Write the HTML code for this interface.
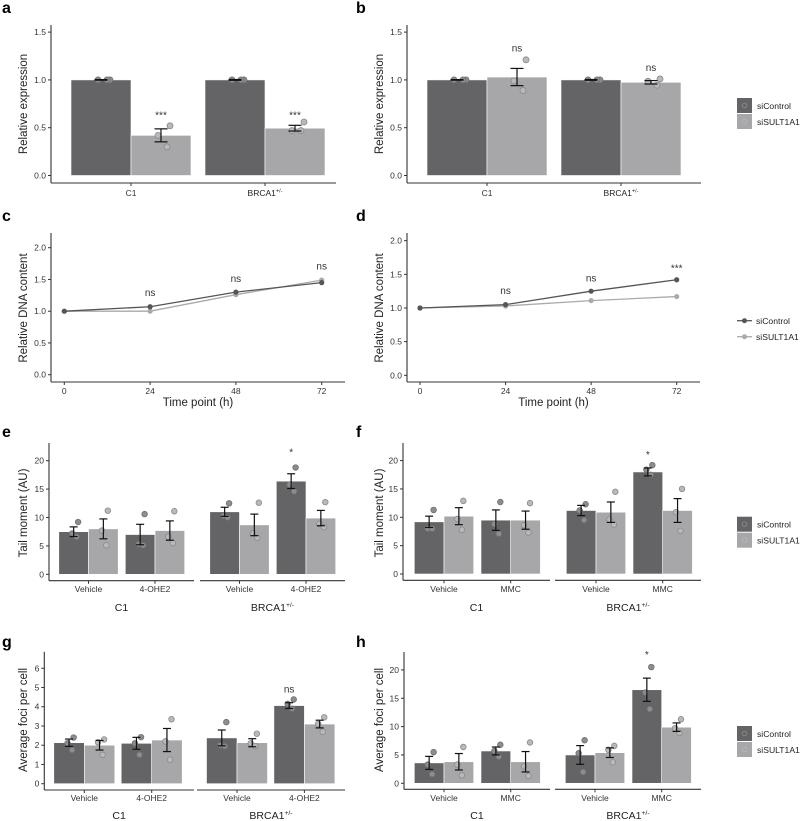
<!DOCTYPE html>
<html><head><meta charset="utf-8">
<style>
html,body{margin:0;padding:0;background:#fff;}
svg{display:block;font-family:"Liberation Sans",Arial,sans-serif;}
</style></head>
<body>
<svg id="fig" width="800" height="821" viewBox="0 0 800 821" xmlns="http://www.w3.org/2000/svg"></svg>
<script>
// ---------- DATA ----------
// Panel a
const aCats = ['C1','BRCA1'];
const aCtrl = [1.0, 1.0];
const aCtrlSe = [0.003, 0.004];
const aSi = [0.42, 0.495];
const aSiSe = [0.068, 0.03];
const aCtrlPts = [[1.0,1.0,1.0],[1.0,1.0,1.0]];
const aSiPts = [[0.52,0.42,0.30],[0.56,0.47,0.47]];
const aAnnot = ['***','***'];
const aAnnotY = [0.64, 0.64];
const aTicks = [0,0.5,1.0,1.5];
// Panel b
const bCtrl = [1.0, 1.0];
const bCtrlSe = [0.003, 0.004];
const bSi = [1.03, 0.975];
const bSiSe = [0.09, 0.018];
const bCtrlPts = [[1.0,1.0,1.0],[1.0,1.0,1.0]];
const bSiPts = [[1.21,0.99,0.89],[1.01,0.985,0.945]];
const bAnnot = ['ns','ns'];
const bAnnotY = [1.34, 1.135];
// Panel c
const timePoints = [0,24,48,72];
const cCtrl = [1.0,1.07,1.30,1.45];
const cSi = [1.0,1.0,1.26,1.49];
const cAnnot = ['','ns','ns','ns'];
const cAnnotY = [0,1.3,1.52,1.72];
const lineTicks = [0,0.5,1.0,1.5,2.0];
// Panel d
const dCtrl = [1.0,1.05,1.25,1.42];
const dSi = [1.0,1.03,1.11,1.17];
const dAnnot = ['','ns','ns','***'];
const dAnnotY = [0,1.27,1.45,1.6];
// Panel e
const eCats = ['Vehicle','4-OHE2','Vehicle','4-OHE2'];
const eCtrl = [7.5,7.0,11.0,16.4];
const eCtrlSe = [0.85,1.8,0.8,1.3];
const eSi = [8.0,7.7,8.7,9.9];
const eSiSe = [1.75,1.7,1.9,1.35];
const eCtrlPts = [[9.2,7.2,6.6],[10.6,5.3,5.1],[12.5,10.3,10.0],[18.8,15.8,14.6]];
const eSiPts = [[11.2,7.7,5.1],[11.1,6.6,5.5],[12.6,7.2,6.4],[12.7,8.9,8.3]];
const eAnnot = ['','','','*'];
const eAnnotY = [0,0,0,21.6];
const eTicks = [0,5,10,15,20];
// Panel f
const fCats = ['Vehicle','MMC','Vehicle','MMC'];
const fCtrl = [9.2,9.5,11.2,18.0];
const fCtrlSe = [1.0,1.8,0.9,0.7];
const fSi = [10.2,9.5,10.9,11.2];
const fSiSe = [1.5,1.6,1.8,2.1];
const fCtrlPts = [[11.3,8.0,8.0],[12.7,8.8,7.1],[12.3,11.2,9.5],[19.2,18.4,17.5]];
const fSiPts = [[12.9,9.7,7.8],[12.5,8.6,7.3],[14.5,9.6,8.7],[15.0,10.9,7.6]];
const fAnnot = ['','','','*'];
const fAnnotY = [0,0,0,21.2];
// Panel g
const gCtrl = [2.13,2.1,2.38,4.06];
const gCtrlSe = [0.19,0.31,0.41,0.15];
const gSi = [2.0,2.27,2.13,3.1];
const gSiSe = [0.25,0.6,0.21,0.2];
const gCtrlPts = [[2.4,2.1,1.75],[2.42,2.1,1.5],[3.2,2.0,1.95],[4.38,4.15,3.9]];
const gSiPts = [[2.3,2.15,1.5],[3.35,2.2,1.25],[2.6,2.1,1.95],[3.45,3.1,2.7]];
const gAnnot = ['','','','ns'];
const gAnnotY = [0,0,0,4.95];
const gTicks = [0,1,2,3,4,5,6];
// Panel h
const hCtrl = [3.6,5.7,5.0,16.5];
const hCtrlSe = [1.15,0.7,1.65,2.05];
const hSi = [3.8,3.8,5.4,9.9];
const hSiSe = [1.45,1.8,0.85,0.75];
const hCtrlPts = [[5.5,3.3,1.6],[6.8,5.7,4.7],[7.6,5.3,2.0],[20.5,16.0,13.1]];
const hSiPts = [[6.4,3.3,1.4],[7.2,3.0,1.3],[6.6,5.9,3.7],[11.3,9.7,8.9]];
const hAnnot = ['','','','*'];
const hAnnotY = [0,0,0,22.8];

// ---------- HELPERS ----------
const NS='http://www.w3.org/2000/svg';
const svg=document.getElementById('fig');
const DARK='#646466', LIGHT='#a7a7aa', AX='#333';
const TICK=8.5, TITLE=11.5, LEG=8.6, ANN=10;
function el(tag, attrs, parent){
  const e=document.createElementNS(NS,tag);
  for(const k in attrs) e.setAttribute(k,attrs[k]);
  (parent||svg).appendChild(e);
  return e;
}
function txt(str, x, y, size, anchor, parent, extra){
  const t=el('text',Object.assign({x:x,y:y,'font-size':size,'text-anchor':anchor||'middle',fill:'#222'},extra||{}),parent);
  t.textContent=str;
  return t;
}
function brcaLabel(x,y,size,parent){
  const t=el('text',{x:x,y:y,'font-size':size,'text-anchor':'middle',fill:'#222'},parent);
  
  
  const a=el('tspan',{},t); a.textContent='BRCA1';
  const b=el('tspan',{'font-size':size*0.65,dy:-size*0.4},t); b.textContent='+/-';
  return t;
}
function panelLetter(l,x,y){
  const t=txt(l,x,y,16,'start',svg,{'font-weight':'bold',fill:'#000'});
  
  
}
function yAxis(g,cfg,ticks,fmt){
  const Y=v=>cfg.y0-v*cfg.ppu;
  el('line',{x1:cfg.ax,x2:cfg.ax,y1:cfg.top,y2:cfg.xAxisY,stroke:AX,'stroke-width':1.1},g);
  ticks.forEach(v=>{
    el('line',{x1:cfg.ax-3,x2:cfg.ax,y1:Y(v),y2:Y(v),stroke:AX,'stroke-width':1},g);
    const t=txt(fmt(v),cfg.ax-5,Y(v)+3,TICK,'end',g,{fill:'#333'});
    
    
  });
  const tl=txt(cfg.ylabel,0,0,TITLE,'middle',g,{transform:'translate('+cfg.ylx+','+cfg.yly+') rotate(-90)'});
  
  
  return Y;
}
function errbar(g,x,lo,hi,w){
  el('line',{x1:x,x2:x,y1:lo,y2:hi,stroke:'#111','stroke-width':1.2},g);
  el('line',{x1:x-w/2,x2:x+w/2,y1:lo,y2:lo,stroke:'#111','stroke-width':1.2},g);
  el('line',{x1:x-w/2,x2:x+w/2,y1:hi,y2:hi,stroke:'#111','stroke-width':1.2},g);
}
const jit=[0.15,-0.05,0.1];
function barPanel(name,cfg,d){
  const g=el('g',{});
  
  
  const Y=yAxis(g,cfg,cfg.ticks,cfg.fmt);
  const n=d.ctrl.length;
  cfg.facets.forEach((f,fi)=>{
    el('line',{x1:f.x0,x2:f.x1,y1:cfg.xAxisY,y2:cfg.xAxisY,stroke:AX,'stroke-width':1.1},g);
    if(f.label){
      let t;
      if(f.label==='BRCA1') t=brcaLabel((f.x0+f.x1)/2,cfg.facetY,10.5,g);
      else {t=txt(f.label,(f.x0+f.x1)/2,cfg.facetY,10.5,'middle',g);
        
        }
    }
  });
  for(let i=0;i<n;i++){
    const f=cfg.facets[Math.floor(i/cfg.perFacet)];
    const cx=f.x0+cfg.off+(i%cfg.perFacet)*cfg.step;
    const bw=cfg.bw;
    el('line',{x1:cx,x2:cx,y1:cfg.xAxisY,y2:cfg.xAxisY+3,stroke:AX},g);
    const lab=d.cats[i];
    if(lab==='BRCA1') brcaLabel(cx,cfg.tickY,TICK,g);
    else{const t=txt(lab,cx,cfg.tickY,TICK,'middle',g,{fill:'#333'});
      
      }
    const r1=el('rect',{x:cx-bw,y:Y(d.ctrl[i]),width:bw,height:Y(0)-Y(d.ctrl[i]),fill:DARK,stroke:'#fff','stroke-width':0.6},g);
    
    
    const r2=el('rect',{x:cx,y:Y(d.si[i]),width:bw,height:Y(0)-Y(d.si[i]),fill:LIGHT,stroke:'#fff','stroke-width':0.6},g);
    
    
    const c1=cx-bw/2, c2=cx+bw/2;
    d.ctrlPts[i].forEach((v,k)=>{
      const p=el('circle',{cx:c1+jit[k]*bw,cy:Y(v),r:cfg.pr,fill:'#8d8d8f',stroke:'#707072','stroke-width':0.8},g);
      
      
    });
    d.siPts[i].forEach((v,k)=>{
      const p=el('circle',{cx:c2+jit[k]*bw,cy:Y(v),r:cfg.pr,fill:'#b9b9bc',stroke:'#8a8a8c','stroke-width':0.8},g);
      
      
    });
    errbar(g,c1,Y(d.ctrl[i]-d.ctrlSe[i]),Y(d.ctrl[i]+d.ctrlSe[i]),cfg.cap);
    errbar(g,c2,Y(d.si[i]-d.siSe[i]),Y(d.si[i]+d.siSe[i]),cfg.cap);
    if(d.annot[i]){
      const ax=d.annotOnCtrl?c1:c2;
      const t=txt(d.annot[i],ax,Y(d.annotY[i])+4,ANN,'middle',g,{fill:'#333'});
      
      
    }
  }
}
function legendBars(x,y){
  const g=el('g',{});
  
  
  [[DARK,'siControl','#8d8d8f'],[LIGHT,'siSULT1A1','#b9b9bc']].forEach((e,i)=>{
    const r=el('rect',{x:x,y:y+i*16,width:15,height:15,fill:e[0]},g);
    
    
    el('circle',{cx:x+7.5,cy:y+i*16+7.5,r:2.3,fill:'none',stroke:e[2],'stroke-width':0.8},g);
    const t=txt(e[1],x+20,y+i*16+11,LEG,'start',g);
    
    
  });
}
function legendLines(x,y){
  const g=el('g',{});
  
  
  [['#555','siControl'],['#aaa','siSULT1A1']].forEach((e,i)=>{
    const yy=y+i*16;
    el('line',{x1:x,x2:x+15,y1:yy,y2:yy,stroke:e[0],'stroke-width':1.3},g);
    el('circle',{cx:x+7.5,cy:yy,r:2.5,fill:e[0]},g);
    const t=txt(e[1],x+19,yy+3.5,LEG,'start',g);
    
    
  });
}
function linePanel(name,cfg,ctrl,si,annot,annotY){
  const g=el('g',{});
  
  
  const Y=yAxis(g,cfg,lineTicks,v=>v.toFixed(1));
  const X=t=>cfg.x0px+t*(cfg.x72px-cfg.x0px)/72;
  el('line',{x1:cfg.ax,x2:cfg.axEnd,y1:cfg.xAxisY,y2:cfg.xAxisY,stroke:AX,'stroke-width':1.1},g);
  timePoints.forEach(t=>{
    el('line',{x1:X(t),x2:X(t),y1:cfg.xAxisY,y2:cfg.xAxisY+3,stroke:AX},g);
    const l=txt(String(t),X(t),cfg.xAxisY+12,TICK,'middle',g,{fill:'#333'});
    
    
  });
  const xt=txt('Time point (h)',(cfg.ax+cfg.axEnd)/2,cfg.xAxisY+24,TITLE,'middle',g);
  
  
  [[si,'#aaa','sisult1a1'],[ctrl,'#555','sicontrol']].forEach(s=>{
    const pl=el('polyline',{points:timePoints.map((t,i)=>X(t)+','+Y(s[0][i])).join(' '),fill:'none',stroke:s[1],'stroke-width':1.3},g);
    
    
    timePoints.forEach((t,i)=>{
      const c=el('circle',{cx:X(t),cy:Y(s[0][i]),r:2.6,fill:s[1]},g);
      
      
    });
  });
  timePoints.forEach((t,i)=>{
    if(annot[i]){
      const a=txt(annot[i],X(t),Y(annotY[i])+4,ANN,'middle',g,{fill:'#333'});
      
      
    }
  });
}

// ---------- DRAW ----------
panelLetter('a',2,13); panelLetter('b',356,13);
panelLetter('c',2,221); panelLetter('d',356,221);
panelLetter('e',2,437); panelLetter('f',356,437);
panelLetter('g',2,647); panelLetter('h',356,647);

const f1=v=>v.toFixed(1), f0=v=>String(v);
barPanel('a',{ax:51,top:25,y0:175.5,ppu:95.6,xAxisY:183,ticks:aTicks,fmt:f1,ylabel:'Relative expression',ylx:27,yly:104,
  facets:[{x0:51,x1:336}],perFacet:2,off:80,step:134,bw:60,pr:3,cap:13,tickY:196},
  {cats:aCats,ctrl:aCtrl,ctrlSe:aCtrlSe,si:aSi,siSe:aSiSe,ctrlPts:aCtrlPts,siPts:aSiPts,annot:aAnnot,annotY:aAnnotY});
barPanel('b',{ax:407,top:25,y0:175.5,ppu:95.6,xAxisY:183,ticks:aTicks,fmt:f1,ylabel:'Relative expression',ylx:383,yly:104,
  facets:[{x0:407,x1:701}],perFacet:2,off:80,step:134,bw:60,pr:3,cap:13,tickY:196},
  {cats:aCats,ctrl:bCtrl,ctrlSe:bCtrlSe,si:bSi,siSe:bSiSe,ctrlPts:bCtrlPts,siPts:bSiPts,annot:bAnnot,annotY:bAnnotY});
legendBars(737,98);

linePanel('c',{ax:51,axEnd:345,top:233,y0:374.7,ppu:63.5,xAxisY:382,x0px:64.3,x72px:321.7,ylabel:'Relative DNA content',ylx:27,yly:308},cCtrl,cSi,cAnnot,cAnnotY);
linePanel('d',{ax:407,axEnd:700,top:233,y0:375.3,ppu:67.3,xAxisY:382,x0px:420,x72px:676.7,ylabel:'Relative DNA content',ylx:383,yly:308},dCtrl,dSi,dAnnot,dAnnotY);
legendLines(737,320.7);

barPanel('e',{ax:49,top:443,y0:574.3,ppu:5.68,xAxisY:580.7,ticks:eTicks,fmt:f0,ylabel:'Tail moment (AU)',ylx:27,yly:513,
  facets:[{x0:49,x1:194,label:'C1'},{x0:200,x1:345,label:'BRCA1'}],perFacet:2,off:39.5,step:66.5,bw:29.7,pr:2.8,cap:8,tickY:592,facetY:611},
  {cats:eCats,ctrl:eCtrl,ctrlSe:eCtrlSe,si:eSi,siSe:eSiSe,ctrlPts:eCtrlPts,siPts:eSiPts,annot:eAnnot,annotY:eAnnotY,annotOnCtrl:true});
barPanel('f',{ax:403,top:443,y0:574,ppu:5.67,xAxisY:580.3,ticks:eTicks,fmt:f0,ylabel:'Tail moment (AU)',ylx:383,yly:513,
  facets:[{x0:403,x1:550,label:'C1'},{x0:555,x1:701,label:'BRCA1'}],perFacet:2,off:41,step:66.7,bw:29.7,pr:2.8,cap:8,tickY:592,facetY:611},
  {cats:fCats,ctrl:fCtrl,ctrlSe:fCtrlSe,si:fSi,siSe:fSiSe,ctrlPts:fCtrlPts,siPts:fSiPts,annot:fAnnot,annotY:fAnnotY,annotOnCtrl:true});
legendBars(737,516.7);

barPanel('g',{ax:44.3,top:651.7,y0:783.7,ppu:19.24,xAxisY:790,ticks:gTicks,fmt:f0,ylabel:'Average foci per cell',ylx:27,yly:720,
  facets:[{x0:44.3,x1:194,label:'C1'},{x0:197,x1:345,label:'BRCA1'}],perFacet:2,off:40,step:67.4,bw:30.5,pr:2.8,cap:8,tickY:801,facetY:819},
  {cats:eCats,ctrl:gCtrl,ctrlSe:gCtrlSe,si:gSi,siSe:gSiSe,ctrlPts:gCtrlPts,siPts:gSiPts,annot:gAnnot,annotY:gAnnotY,annotOnCtrl:true});
barPanel('h',{ax:404,top:652,y0:783.3,ppu:5.67,xAxisY:789.3,ticks:eTicks,fmt:f0,ylabel:'Average foci per cell',ylx:383,yly:720,
  facets:[{x0:404,x1:550,label:'C1'},{x0:555,x1:701,label:'BRCA1'}],perFacet:2,off:40,step:66.7,bw:29.7,pr:2.8,cap:8,tickY:801,facetY:819},
  {cats:fCats,ctrl:hCtrl,ctrlSe:hCtrlSe,si:hSi,siSe:hSiSe,ctrlPts:hCtrlPts,siPts:hSiPts,annot:hAnnot,annotY:hAnnotY,annotOnCtrl:true});
legendBars(737,726);
</script>
</body></html>
